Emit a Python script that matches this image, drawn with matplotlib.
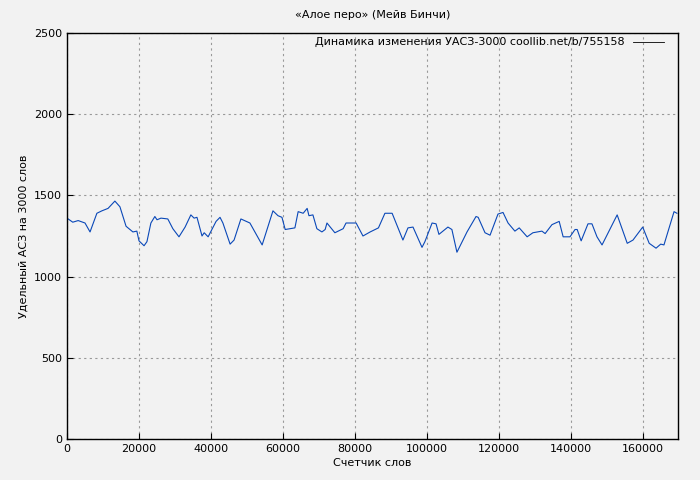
import matplotlib
matplotlib.use("Agg")
import matplotlib.pyplot as plt

# word counter positions and specific ASZ values
words = [0, 1600, 3100, 5000, 6400, 8300, 9700, 11400, 13300, 14700, 16400, 18300, 19400,
         20000, 21400, 22200, 23300, 24400, 25000, 26100, 28000, 29400, 31100, 32800, 34400,
         35300, 36100, 37500, 38100, 39200, 41400, 42500, 43300, 45300, 46400, 48300, 50800,
         54200, 57200, 58600, 59700, 60600, 63300, 64200, 65600, 66700, 67200, 68300, 69400,
         70800, 71700, 72200, 74400, 76700, 77500, 80300, 82200, 84200, 86500, 88300, 90300,
         93300, 94700, 96100, 98600, 99400, 101400, 102500, 103300, 105800, 106900, 108300,
         111100, 113600, 114200, 116100, 117500, 119700, 121100, 122500, 124400, 125600,
         127800, 129400, 131900, 132800, 134700, 136700, 137800, 139700, 141100, 141700,
         142800, 144700, 145800, 147200, 148600, 152800, 155600, 157200, 159900, 161700,
         163600, 164900, 165800, 168600, 169400]
asz = [1360, 1335, 1345, 1330, 1275, 1390, 1405, 1420, 1465, 1430, 1310, 1275, 1280,
       1220, 1190, 1215, 1330, 1370, 1350, 1360, 1355, 1295, 1245, 1305, 1380,
       1360, 1365, 1250, 1270, 1245, 1340, 1365, 1330, 1200, 1225, 1355, 1330,
       1195, 1405, 1375, 1365, 1290, 1300, 1400, 1390, 1420, 1375, 1380, 1295,
       1275, 1290, 1330, 1270, 1295, 1330, 1330, 1250, 1275, 1300, 1390, 1390,
       1225, 1300, 1305, 1180, 1215, 1330, 1325, 1260, 1305, 1290, 1150,
       1275, 1370, 1365, 1270, 1255, 1385, 1395, 1330, 1280, 1300,
       1245, 1270, 1280, 1265, 1320, 1340, 1245, 1245, 1290, 1290,
       1220, 1325, 1325, 1245, 1195, 1380, 1205, 1225, 1305, 1205,
       1175, 1200, 1195, 1400, 1390]

bg = "#f2f2f2"
fig = plt.figure(figsize=(7, 4.8), dpi=100, facecolor=bg)
ax = fig.add_axes([67 / 700, 41 / 480, 611 / 700, 406 / 480], facecolor=bg)
ax.plot(words, asz, color="#0a48b8", lw=0.8, label="Динамика изменения УАСЗ-3000 coollib.net/b/755158")

ax.set_xlim(0, 169700)
ax.set_ylim(0, 2500)
ax.set_xticks(range(0, 160001, 20000))
ax.set_yticks(range(0, 2501, 500))
ax.grid(True, color="#999999", ls=(0, (2, 3)), lw=0.8)
ax.tick_params(labelsize=8, direction="in", length=4)
for s in ax.spines.values():
    s.set_linewidth(1.0)
ax.set_title("«Алое перо» (Мейв Бинчи)", fontsize=8, pad=11)
ax.set_xlabel("Счетчик слов", fontsize=8, labelpad=3)
ax.set_ylabel("Удельный АСЗ на 3000 слов", fontsize=8)
leg = ax.legend(loc="upper right", fontsize=8, frameon=False, markerfirst=False,
                handlelength=2.8, borderaxespad=0.0, bbox_to_anchor=(0.985, 1.0))
leg.get_lines()[0].set_color("black")
leg.get_lines()[0].set_linewidth(0.6)
fig.savefig("out.png", dpi=100, facecolor=bg)
